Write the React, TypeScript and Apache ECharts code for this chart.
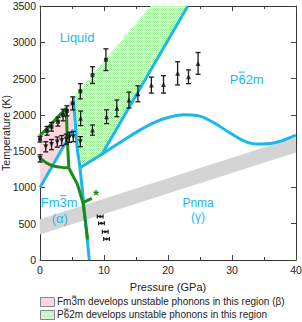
import React, { useEffect, useRef } from "react";
import * as echarts from "echarts";

const FONT = "Liberation Sans, Arial, Helvetica, sans-serif";
const BLUE = "#1cb7ee";
const GREEN = "#198c19";
const PINK = "#fad8de";

// Phase boundaries, [P (GPa), T (K)]
const alphaMeltLine = [[0, 1000], [5.2, 1800]];
const alphaPnmaLine = [[5.2, 2245], [5.5, 1900], [5.8, 1550], [6.25, 1270], [7.0, 620], [7.7, 0]];
const pnmaP62mLine = [[6.25, 1270], [9.7, 1460], [12.5, 1620], [15.6, 1790], [18, 1900], [20.3, 1970], [22.5, 2000], [24.5, 1990], [27, 1900], [29.7, 1750], [32.3, 1625], [34.5, 1598], [36, 1605], [38, 1650], [40, 1720]];
const p62mMeltLine = [[9.7, 1460], [23.1, 3500]];

// Green (beta) boundaries
const greenUpper = [[0, 1715], [1.5, 1850], [3.0, 1990], [4.1, 2090], [4.25, 1700], [4.5, 1270]];
const greenLower = [[0, 1405], [1.6, 1310], [3.1, 1280], [4.5, 1270]];
const greenStem = [[4.5, 1270], [5.2, 1150], [5.8, 1050], [6.4, 880], [6.7, 790], [7.1, 520], [7.45, 280]];
const greenBranch = [[6.7, 790], [8.1, 850]];

// Shaded regions
const pinkRegion = [[0, 1000], [0, 1680], [5.2, 2245], [5.2, 1800]];
const greenRegion = [[5.2, 2245], [17.3, 3500], [23.1, 3500], [9.7, 1460], [6.25, 1270], [5.8, 1550], [5.5, 1900]];
const grayBand = [[0, 350], [40, 1480], [40, 1690], [0, 560]];

// Experimental points
const upperP = [0, 1.1, 1.8, 2.8, 3.6, 4.2, 5.1, 6.3, 8.2, 10.3];
const upperT = [1665, 1780, 1836, 1905, 1997, 2055, 2158, 2325, 2548, 2760];
const upperErr = [40, 60, 60, 60, 80, 70, 90, 105, 115, 150];

const midP = [6.35, 8.2, 10.4, 12, 13.9, 15.3, 17.4, 19.3, 21.5, 23.2, 24.7];
const midT = [1952, 1790, 1974, 2090, 2204, 2290, 2410, 2420, 2572, 2525, 2709];
const midErr = [100, 70, 95, 115, 110, 110, 110, 120, 160, 95, 150];

const lowerP = [0, 0.9, 1.8, 2.7, 3.4, 4.1, 4.6, 5.2, 6.3];
const lowerT = [1400, 1560, 1590, 1625, 1645, 1665, 1690, 1700, 1630];
const lowerErr = [50, 70, 70, 70, 70, 70, 70, 70, 70];

const solidP = [9.4, 9.6, 10.2, 10.4];
const solidT = [600, 505, 390, 290];
const solidErrP = [0.45, 0.45, 0.45, 0.45];

// Region labels (overbar drawn over one character: start offset / width in px, -1 = none)
const labelText = ["Liquid", "P62m", "Fm3m", "(\u03b1)", "Pnma", "(\u03b3)", "*"];
const labelP = [5.8, 32.3, 3.0, 3.1, 24.7, 24.7, 8.75];
const labelT = [3070, 2493, 790, 578, 785, 592, 900];
const labelColor = [BLUE, BLUE, BLUE, BLUE, BLUE, BLUE, GREEN];
const labelSize = [13, 13, 13, 13, 12, 12, 15];
const labelBarFrom = [-1, 8.67, 18.77, -1, -1, -1, -1];
const labelBarWidth = [0, 7.23, 7.23, 0, 0, 0, 0];

const legendTexts = [
  "Fm3m develops unstable phonons in this region (\u03b2)",
  "P62m develops unstable phonons in this region",
];

function makePattern(): any {
  const c = document.createElement("canvas");
  c.width = 4;
  c.height = 4;
  const ctx = c.getContext("2d")!;
  ctx.fillStyle = "#f4fdf2";
  ctx.fillRect(0, 0, 4, 4);
  ctx.fillStyle = "#9fe89a";
  ctx.fillRect(0, 0, 1, 1);
  ctx.fillRect(2, 0, 1, 1);
  ctx.fillRect(1, 1, 1, 1);
  ctx.fillRect(3, 1, 1, 1);
  ctx.fillRect(0, 2, 1, 1);
  ctx.fillRect(2, 2, 1, 1);
  ctx.fillStyle = "#cdf5ca";
  ctx.fillRect(1, 3, 1, 1);
  ctx.fillRect(3, 3, 1, 1);
  return { image: c, repeat: "repeat" };
}

function polySeries(points: number[][], fill: any, z: number) {
  return {
    type: "custom",
    z,
    silent: true,
    data: points,
    encode: { x: 0, y: 1 },
    renderItem: (params: any, api: any) => {
      if (params.dataIndex !== 0) return null;
      return {
        type: "polygon",
        shape: { points: points.map((pt) => api.coord(pt)) },
        style: { fill, stroke: "none" },
      };
    },
  };
}

function lineSeries(data: number[][], color: string, z: number, smooth: number | boolean = false) {
  return {
    type: "line",
    z,
    data,
    smooth,
    showSymbol: false,
    symbol: "none",
    silent: true,
    lineStyle: { color, width: 3 },
  };
}

function vErrSeries(P: number[], T: number[], E: number[]) {
  return {
    type: "custom",
    z: 20,
    silent: true,
    data: P.map((p, i) => [p, T[i], E[i]]),
    encode: { x: 0, y: 1 },
    renderItem: (params: any, api: any) => {
      const p = api.value(0);
      const t = api.value(1);
      const e = api.value(2);
      const a = api.coord([p, t + e]);
      const b = api.coord([p, t - e]);
      const c = 2.5;
      const style = { stroke: "#1a1a1a", lineWidth: 1.3 };
      return {
        type: "group",
        children: [
          { type: "line", shape: { x1: a[0], y1: a[1], x2: b[0], y2: b[1] }, style },
          { type: "line", shape: { x1: a[0] - c, y1: a[1], x2: a[0] + c, y2: a[1] }, style },
          { type: "line", shape: { x1: b[0] - c, y1: b[1], x2: b[0] + c, y2: b[1] }, style },
        ],
      };
    },
  };
}

function hErrSeries(P: number[], T: number[], E: number[]) {
  return {
    type: "custom",
    z: 20,
    silent: true,
    data: P.map((p, i) => [p, T[i], E[i]]),
    encode: { x: 0, y: 1 },
    renderItem: (params: any, api: any) => {
      const p = api.value(0);
      const t = api.value(1);
      const e = api.value(2);
      const a = api.coord([p - e, t]);
      const b = api.coord([p + e, t]);
      const c = 2;
      const style = { stroke: "#1a1a1a", lineWidth: 1.2 };
      return {
        type: "group",
        children: [
          { type: "line", shape: { x1: a[0], y1: a[1], x2: b[0], y2: b[1] }, style },
          { type: "line", shape: { x1: a[0], y1: a[1] - c, x2: a[0], y2: a[1] + c }, style },
          { type: "line", shape: { x1: b[0], y1: b[1] - c, x2: b[0], y2: b[1] + c }, style },
        ],
      };
    },
  };
}

function scatter(P: number[], T: number[], symbol: string, size: number, rotate = 0) {
  return {
    type: "scatter",
    z: 21,
    silent: true,
    symbol,
    symbolSize: size,
    symbolRotate: rotate,
    itemStyle: { color: "#111" },
    data: P.map((p, i) => [p, T[i]]),
  };
}

export default function App() {
  const ref = useRef<HTMLDivElement>(null);
  useEffect(() => {
    if (!ref.current) return;
    const chart = echarts.init(ref.current, null, { renderer: "svg" });
    const pattern = makePattern();
    const axisCommon = {
      type: "value",
      splitLine: { show: false },
      axisLine: { show: true, onZero: false, lineStyle: { color: "#333", width: 1 } },
      axisTick: { show: true, inside: true, length: 5, lineStyle: { color: "#444" } },
    };
    const option: any = {
      animation: false,
      backgroundColor: "#fff",
      textStyle: { fontFamily: FONT },
      grid: { left: 40, right: 6, top: 6, bottom: 62, containLabel: false, outerBoundsMode: "none" },
      xAxis: [
        {
          ...axisCommon,
          position: "bottom",
          min: 0,
          max: 40,
          interval: 10,
          minorTick: { show: true, splitNumber: 2, length: 3, lineStyle: { color: "#444" } },
          axisLabel: { color: "#222", fontSize: 10.5, margin: 4, fontFamily: FONT },
          name: "Pressure (GPa)",
          nameLocation: "middle",
          nameGap: 21,
          nameMoveOverlap: false,
          nameTextStyle: { color: "#222", fontSize: 11, fontFamily: FONT },
        },
        {
          ...axisCommon,
          position: "top",
          min: 0,
          max: 40,
          interval: 10,
          minorTick: { show: true, splitNumber: 2, length: 3, lineStyle: { color: "#444" } },
          axisLabel: { show: false },
        },
      ],
      yAxis: [
        {
          ...axisCommon,
          position: "left",
          min: 0,
          max: 3500,
          interval: 500,
          axisLabel: { color: "#222", fontSize: 10.5, margin: 4, fontFamily: FONT, formatter: (v: number) => String(v) },
          name: "Temperature (K)",
          nameLocation: "middle",
          nameGap: 29,
          nameMoveOverlap: false,
          nameTextStyle: { color: "#222", fontSize: 10.5, fontFamily: FONT },
        },
        {
          ...axisCommon,
          position: "right",
          min: 0,
          max: 3500,
          interval: 500,
          axisLabel: { show: false },
        },
      ],
      series: [
        polySeries(grayBand, "#d4d4d4", 1),
        polySeries(pinkRegion, PINK, 2),
        polySeries(greenRegion, pattern, 2),
        lineSeries(alphaMeltLine, BLUE, 5),
        lineSeries(alphaPnmaLine, BLUE, 5, 0.3),
        lineSeries(pnmaP62mLine, BLUE, 5, 0.4),
        lineSeries(p62mMeltLine, BLUE, 5),
        lineSeries(greenUpper, GREEN, 6),
        lineSeries(greenLower, GREEN, 6, 0.4),
        lineSeries(greenStem, GREEN, 6, 0.3),
        lineSeries(greenBranch, GREEN, 6),
        vErrSeries(upperP, upperT, upperErr),
        vErrSeries(midP, midT, midErr),
        vErrSeries(lowerP, lowerT, lowerErr),
        hErrSeries(solidP, solidT, solidErrP),
        scatter(upperP, upperT, "rect", 4),
        scatter(midP, midT, "triangle", 5),
        scatter(lowerP, lowerT, "triangle", 5, 180),
        scatter(solidP, solidT, "circle", 3),
        {
          type: "custom",
          z: 30,
          silent: true,
          data: labelP.map((p, i) => [p, labelT[i]]),
          encode: { x: 0, y: 1 },
          renderItem: (params: any, api: any) => {
            const i = params.dataIndex;
            const c = api.coord([labelP[i], labelT[i]]);
            const children: any[] = [
              {
                type: "text",
                x: c[0],
                y: c[1],
                style: {
                  text: labelText[i],
                  fill: labelColor[i],
                  fontSize: labelSize[i],
                  fontFamily: FONT,
                  fontWeight: i === 6 ? "bold" : "normal",
                  align: "center",
                  verticalAlign: "middle",
                },
              },
            ];
            if (labelBarFrom[i] >= 0) {
              const w = echarts.format.getTextRect
                ? (echarts.format as any).getTextRect(labelText[i], labelSize[i] + "px " + FONT).width
                : 34;
              const x0 = c[0] - w / 2 + labelBarFrom[i];
              const y0 = c[1] - 7;
              children.push({
                type: "line",
                shape: { x1: x0 + 0.5, y1: y0, x2: x0 + labelBarWidth[i] - 0.5, y2: y0 },
                style: { stroke: labelColor[i], lineWidth: 1 },
              });
            }
            return { type: "group", children };
          },
        },
      ],
      graphic: [
        { type: "rect", left: 40, top: 297, shape: { width: 14, height: 9 }, style: { fill: PINK, stroke: "#888", lineWidth: 1 } },
        { type: "text", left: 57, top: 296, style: { text: legendTexts[0], fontSize: 10, fill: "#222", fontFamily: FONT } },
        { type: "line", shape: { x1: 71.9, y1: 296.2, x2: 76.4, y2: 296.2 }, style: { stroke: "#222", lineWidth: 0.8 } },
        { type: "rect", left: 40, top: 310, shape: { width: 14, height: 9 }, style: { fill: pattern, stroke: "#888", lineWidth: 1 } },
        { type: "text", left: 57, top: 309, style: { text: legendTexts[1], fontSize: 10, fill: "#222", fontFamily: FONT } },
        { type: "line", shape: { x1: 64.1, y1: 309.2, x2: 68.6, y2: 309.2 }, style: { stroke: "#222", lineWidth: 0.8 } },
      ],
    };
    chart.setOption(option);
    return () => chart.dispose();
  }, []);
  return <div ref={ref} style={{ width: 302, height: 322, position: "absolute", left: 0, top: 0 }} />;
}
